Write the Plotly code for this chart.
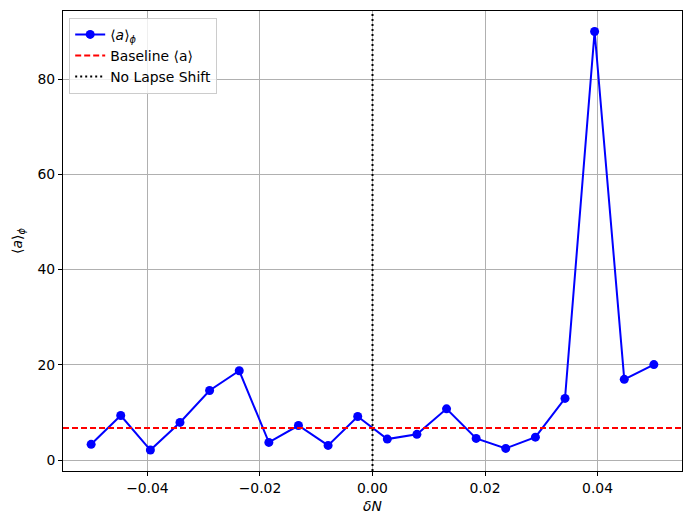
import numpy as np
import plotly.graph_objects as go

delta_n = [-0.05, -0.04474, -0.03947, -0.03421, -0.02895, -0.02368, -0.01842,
           -0.01316, -0.00789, -0.00263, 0.00263, 0.00789, 0.01316, 0.01842,
           0.02368, 0.02895, 0.03421, 0.03947, 0.04474, 0.05]
a_phi = [3.3, 9.35, 2.1, 7.9, 14.6, 18.75, 3.7, 7.25, 3.07, 9.15, 4.4, 5.4,
         10.75, 4.55, 2.45, 4.8, 12.95, 90.0, 16.95, 20.05]
baseline = 6.72
no_shift = 0.0

x_ticks = [-0.04, -0.02, 0.0, 0.02, 0.04]
y_ticks = [0, 20, 40, 60, 80]

FONT = "DejaVu Sans"
FS = 13.9

fig = go.Figure()
fig.add_trace(go.Scatter(
    x=delta_n, y=a_phi, mode="lines+markers",
    name="⟨<i>a</i>⟩<sub><i>ϕ</i></sub>",
    line=dict(color="#0000ff", width=2),
    marker=dict(color="#0000ff", size=9),
))
fig.add_trace(go.Scatter(
    x=[None], y=[None], mode="lines", name="Baseline ⟨a⟩",
    line=dict(color="#ff0000", width=2, dash="6px,3px"),
))
fig.add_trace(go.Scatter(
    x=[None], y=[None], mode="lines", name="No Lapse Shift",
    line=dict(color="#000000", width=2, dash="2px,3px"),
))

fig.add_shape(type="line", xref="paper", x0=0, x1=1, yref="y", y0=baseline, y1=baseline,
              line=dict(color="#ff0000", width=2, dash="6px,3px"), layer="above")
fig.add_shape(type="line", xref="x", x0=no_shift, x1=no_shift, yref="paper", y0=0, y1=1,
              line=dict(color="#000000", width=2, dash="2px,3px"), layer="above")

axis_common = dict(
    showgrid=True, gridcolor="#b0b0b0", gridwidth=1,
    showline=True, linecolor="black", linewidth=1, mirror=True,
    ticks="outside", ticklen=4, tickcolor="black", tickwidth=1,
    zeroline=False, automargin=False,
    tickfont=dict(family=FONT, size=FS, color="black"),
)

fig.update_layout(
    width=692, height=525,
    margin=dict(l=63, r=10, t=11, b=54, autoexpand=False),
    paper_bgcolor="white", plot_bgcolor="white",
    font=dict(family=FONT, size=FS, color="black"),
    showlegend=True,
    legend=dict(
        x=0.01, y=0.985, xanchor="left", yanchor="top",
        bgcolor="rgba(255,255,255,0.8)", bordercolor="#cccccc", borderwidth=1,
        font=dict(family=FONT, size=FS, color="black"),
        tracegroupgap=0, itemwidth=30,
    ),
    xaxis=dict(
        range=[-0.055, 0.055], tickvals=x_ticks, tickformat=".2f",
        title=dict(text="<i>δN</i>", font=dict(family=FONT, size=FS), standoff=6),
        **axis_common,
    ),
    yaxis=dict(
        range=[-2.3, 94.3], tickvals=y_ticks,
        title=dict(text="⟨<i>a</i>⟩<sub><i>ϕ</i></sub>", font=dict(family=FONT, size=FS), standoff=11),
        **axis_common,
    ),
)

fig.write_html(
    "out.html",
    config={"displayModeBar": False},
    post_script="document.body.style.margin='0';document.body.style.overflow='hidden';",
)
